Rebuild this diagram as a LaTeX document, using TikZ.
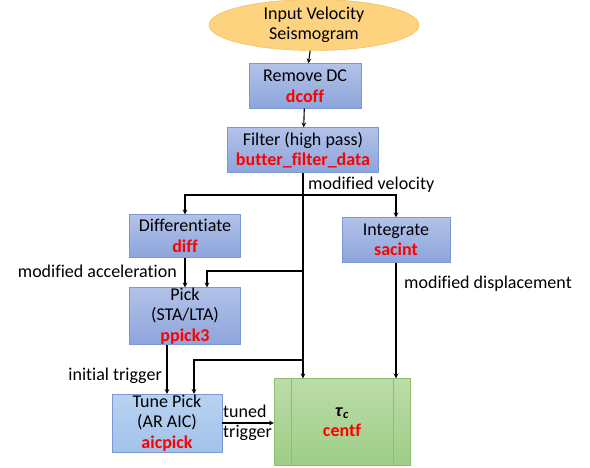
\documentclass[tikz,border=0pt]{standalone}
\usepackage{amsmath}
\usepackage{fontspec}
\setmainfont{Carlito}[Ligatures=NoCommon]
\usetikzlibrary{positioning,calc,shapes.geometric}
\definecolor{bluetop}{HTML}{B2C2E8}
\definecolor{bluebot}{HTML}{8DA5DC}
\definecolor{blueedge}{HTML}{7C98D2}
\definecolor{lighttop}{HTML}{B8D2F1}
\definecolor{lightbot}{HTML}{A2C2EA}
\definecolor{greentop}{HTML}{BCDCA9}
\definecolor{greenbot}{HTML}{9ECD86}
\definecolor{greenedge}{HTML}{8CC06E}
\definecolor{inputfill}{HTML}{FDD37F}
\definecolor{inputedge}{HTML}{F4B548}
\definecolor{codered}{HTML}{FF0000}
\tikzset{
	procbox/.style={draw=blueedge,top color=bluetop,bottom color=bluebot,align=center,inner sep=0pt},
	tunebox/.style={draw=blueedge,top color=lighttop,bottom color=lightbot,align=center,inner sep=0pt},
	flowlabel/.style={inner sep=0pt,align=left},
	flow/.style={-stealth,line width=1.1pt},
}
\newcommand{\code}[1]{\textcolor{codered}{\textbf{#1}}}

\begin{document}
\begin{tikzpicture}[x=1pt,y=-1pt,font=\fontsize{18}{20.5}\selectfont]
			\useasboundingbox[fill=white] (0,0) rectangle (590,468);
			\node[ellipse,draw=inputedge,fill=inputfill,minimum width=210pt,minimum height=46pt,inner sep=0pt,align=center] (input) at (314,25) {Input Velocity\\Seismogram};
			\node[procbox,minimum width=112pt,minimum height=45pt] (dc) at (305,86) {Remove DC\\\code{dcoff}};
			\node[procbox,minimum width=151pt,minimum height=45pt] (filter) at (303,150) {Filter (high pass)\\\code{butter\_filter\_data}};
			\node[procbox,minimum width=111pt,minimum height=43pt] (diff) at (185,236) {Differentiate\\\code{diff}};
			\node[procbox,minimum width=108pt,minimum height=45pt] (integ) at (396,240) {Integrate\\\code{sacint}};
			\node[procbox,minimum width=111pt,minimum height=57pt] (pick) at (185,316) {Pick\\(STA/LTA)\\\code{ppick3}};
			\node[tunebox,minimum width=110pt,minimum height=58pt] (tune) at (167,423) {Tune Pick\\(AR AIC)\\\code{aicpick}};
			\node[draw=greenedge,top color=greentop,bottom color=greenbot,minimum width=136pt,minimum height=87pt,inner sep=0pt,align=center] (centf) at (342,422) {\textbf{\textit{τ}\textsubscript{\textit{c}}}\\\code{centf}};
			\draw[greenedge,line width=0.8pt] ($(centf.north west)+(18,0)$)--($(centf.south west)+(18,0)$);
			\draw[greenedge,line width=0.8pt] ($(centf.north east)+(-17,0)$)--($(centf.south east)+(-17,0)$);
			
			\coordinate (split) at (filter.south |- 0,195);
			\coordinate (tap1) at (filter.south |- 0,271);
			\coordinate (tap2) at (filter.south |- 0,360);
			\coordinate (pickin) at (207,0);
			\coordinate (tunein) at (194,0);
			
			\draw[flow] (input)--(dc);
			\draw[flow] (dc)--(filter);
			\draw[flow] (filter.south)--(filter.south |- centf.north);
			\draw[flow] (split)-|(diff.north);
			\draw[flow] (split)-|(integ.north);
			\draw[flow] (diff.south)--(pick.north -| diff.south);
			\draw[flow] (tap1)-|(pickin |- pick.north);
			\draw[flow] (tune.north |- pick.south)--(tune.north);
			\draw[flow] (tap2)-|(tunein |- tune.north);
			\draw[flow] (integ.south)--(integ.south |- centf.north);
			\draw[flow] (tune.east)--(centf.west |- tune.east);
			
			\node[flowlabel,anchor=west] (velo) at (308,185) {modified velocity};
			\node[flowlabel,anchor=east] (accel) at (177,271) {modified acceleration};
			\node[flowlabel,anchor=west] (displ) at (404,284) {modified displacement};
			\node[flowlabel,anchor=east] (init) at (162,376) {initial trigger};
			\node[flowlabel,anchor=west] (tuned) at (223,423) {tuned\\trigger};
		\end{tikzpicture}
\end{document}
